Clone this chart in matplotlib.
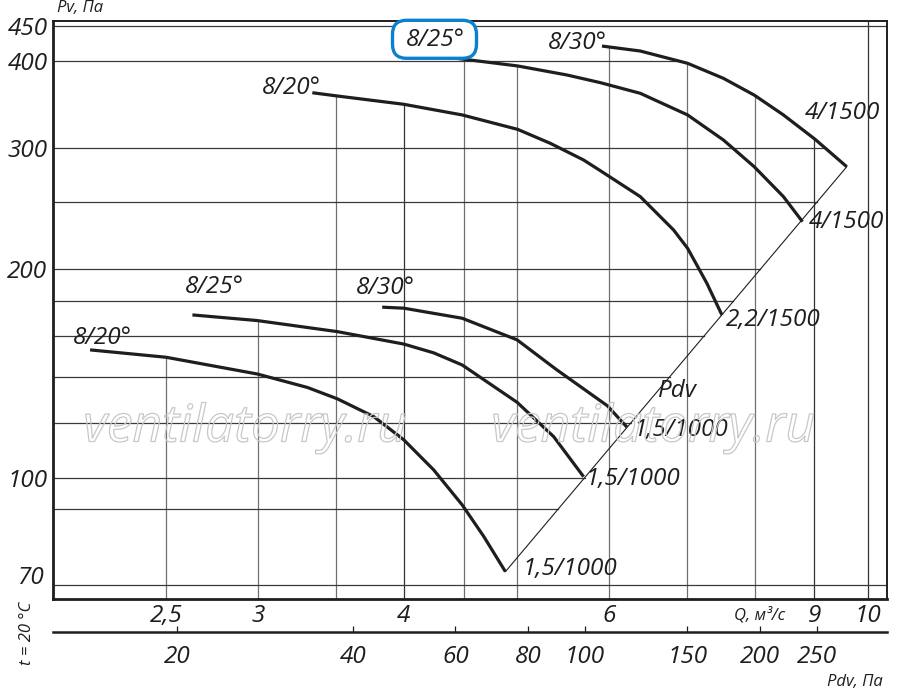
import numpy as np
import matplotlib.pyplot as plt
from matplotlib import patheffects
from matplotlib.patches import FancyBboxPatch
from matplotlib.transforms import IdentityTransform
from matplotlib.ticker import NullLocator

plt.rcParams['font.family'] = ['Open Sans', 'DejaVu Sans']
plt.rcParams['font.style'] = 'italic'

# === Curves: Q (m3/s) vs Pv (Pa) ===
q_hi20 = [3.338, 3.507, 3.999, 4.488, 5.008, 5.342, 5.704, 5.896, 6.380, 6.814, 7.005, 7.277, 7.496]
p_hi20 = [360.3, 356.4, 346.7, 334.6, 318.9, 304.4, 288.0, 277.9, 254.9, 228.1, 214.6, 191.0, 171.9]

q_hi25 = [4.052, 4.488, 5.008, 5.521, 5.896, 6.380, 7.005, 7.519, 7.990, 8.465, 8.789]
p_hi25 = [411.7, 403.1, 393.9, 382.2, 372.6, 359.6, 334.6, 307.8, 281.6, 254.9, 234.5]

q_hi30 = [5.915, 6.380, 7.005, 7.519, 7.990, 8.465, 9.012, 9.593]
p_hi30 = [420.9, 414.0, 397.4, 378.0, 357.5, 334.6, 308.5, 281.6]

q_lo20 = [2.152, 2.500, 2.994, 3.306, 3.507, 3.769, 3.999, 4.242, 4.488, 4.683, 4.888]
p_lo20 = [153.0, 149.3, 141.2, 135.0, 130.0, 122.5, 113.4, 102.6, 91.3, 82.2, 73.1]

q_lo25 = [2.634, 2.994, 3.507, 3.999, 4.242, 4.488, 5.002, 5.377, 5.704]
p_lo25 = [171.9, 168.7, 162.6, 156.0, 151.5, 145.5, 128.5, 114.6, 100.3]

q_lo30 = [3.832, 3.999, 4.488, 5.002, 5.400, 5.979, 6.214]
p_lo30 = [176.4, 175.8, 170.0, 158.2, 143.5, 127.0, 118.3]

# labels: start of curve / end of curve
lbl_hi = ['8/20°', '8/25°', '8/30°']
end_hi = ['2,2/1500', '4/1500', '4/1500']
lbl_lo = ['8/20°', '8/25°', '8/30°']
end_lo = ['1,5/1000', '1,5/1000', '1,5/1000']

# axes ticks / grid
q_ticks = [2.5, 3, 4, 6, 9, 10]
q_ticklabels = ['2,5', '3', '4', '6', '9', '10']
q_grid = [2.5, 3, 3.5, 4, 4.5, 5, 6, 7, 8, 9, 10]
q_grid_dark = [4, 9, 10]
p_ticks = [100, 200, 300, 400, 450]
p_low_tick = 70
p_grid = [70, 90, 100, 120, 140, 160, 180, 200, 250, 300, 400, 450]
pdv_ticks = [20, 40, 60, 80, 100, 150, 200, 250]
k_pdv = 3.06   # Pdv = k * Q^2

q_lim = (2.0, 10.38)
p_lim = (66.8, 458)

curves = [(q_hi20, p_hi20), (q_hi25, p_hi25), (q_hi30, p_hi30),
          (q_lo20, p_lo20), (q_lo25, p_lo25), (q_lo30, p_lo30)]

fig = plt.figure(figsize=(9, 6.92), dpi=100)
ax = fig.add_axes([0.0589, 0.1348, 0.9263, 0.8353])
ax.set_xscale('log')
ax.set_yscale('log')
ax.set_xlim(*q_lim)
ax.set_ylim(*p_lim)

ink = '#1e1e1e'

# === grid, clipped under the curves and left of the Pdv line ===
def top_at(qv):
    vals = []
    for q, p in curves:
        if q[0] <= qv <= q[-1]:
            vals.append(10 ** np.interp(np.log10(qv), np.log10(q), np.log10(p)))
    return max(vals) if vals else p_lim[1]

for qv in q_grid:
    col = '#333333' if qv in q_grid_dark else '#707070'
    ax.plot([qv, qv], [p_lim[0], top_at(qv)], color=col, lw=0.9, zorder=1)

# right edge: top 8/30 curve, then Pdv line down to the lowest end point
edge_q = np.array(q_hi30 + [q_lo20[-1]])
edge_p = np.array(p_hi30 + [p_lo20[-1]])
for pv in p_grid:
    if edge_p[-1] < pv < edge_p[0]:
        qr = 10 ** np.interp(np.log10(pv), np.log10(edge_p[::-1]), np.log10(edge_q[::-1]))
    else:
        qr = q_lim[1]
    ax.plot([q_lim[0], qr], [pv, pv], color='#3a3a3a', lw=0.9, zorder=1)

# === watermark ===
for xw in [0.2722, 0.7256]:
    fig.text(xw, 0.3815, 'ventilatorry.ru', fontsize=37, color='none',
             ha='center', va='center', zorder=2,
             path_effects=[patheffects.Stroke(linewidth=0.9, foreground='#c8c8c8')])

# === Pdv line ===
ax.plot([q_lo20[-1], q_hi30[-1]], [p_lo20[-1], p_hi30[-1]], color=ink, lw=0.8, zorder=3)

# === curves ===
for q, p in curves:
    ax.plot(q, p, color=ink, lw=2.3, solid_capstyle='butt', solid_joinstyle='round', zorder=4)

# === curve labels (offsets in px from curve start / end) ===
def put(txt, q, p, dx, dy):
    ax.annotate(txt, xy=(q, p), xytext=(dx * 0.72, dy * 0.72), textcoords='offset points',
                ha='center', va='center', fontsize=17.5, color=ink, zorder=5)

put(lbl_hi[0], q_hi20[0], p_hi20[0], -21, 5)
put(lbl_hi[1], q_hi25[0], p_hi25[0], 25, 13)
put(lbl_hi[2], q_hi30[0], p_hi30[0], -25, 3)
put(end_hi[0], q_hi20[-1], p_hi20[-1], 51, -5)
put(end_hi[1], q_hi25[-1], p_hi25[-1], 44, 0)
put(end_hi[2], q_hi30[-1], p_hi30[-1], -4, 54)
put(lbl_lo[0], q_lo20[0], p_lo20[0], 12, 12)
put(lbl_lo[1], q_lo25[0], p_lo25[0], 22, 28)
put(lbl_lo[2], q_lo30[0], p_lo30[0], 3, 19)
put(end_lo[0], q_lo20[-1], p_lo20[-1], 64, 3)
put(end_lo[1], q_lo25[-1], p_lo25[-1], 49, -2)
put(end_lo[2], q_lo30[-1], p_lo30[-1], 54, -3)
ax.text(6.86, 133.5, 'Pdv', fontsize=17.5, color=ink, ha='center', va='center', zorder=5)

# blue highlight round the upper 8/25° label (pixel box)
ax.add_patch(FancyBboxPatch((392.5, 692 - 58.3), 84, 38, boxstyle='round,pad=0,rounding_size=14',
                            transform=IdentityTransform(), fc='white', ec='#0a80d0',
                            lw=2.4, clip_on=False, zorder=4.5))

# === axes ===
ax.xaxis.set_minor_locator(NullLocator())
ax.yaxis.set_minor_locator(NullLocator())
ax.set_xticks(q_ticks, q_ticklabels)
ax.set_yticks(p_ticks, [str(v) for v in p_ticks])
ax.tick_params(length=0, labelsize=17.5, labelcolor=ink)
ax.tick_params(axis='x', pad=4)
ax.tick_params(axis='y', pad=4)
# the 70 label sits a little above its grid line
ax.annotate(str(p_low_tick), xy=(0, p_low_tick), xycoords=('axes fraction', 'data'),
            xytext=(-4 * 0.72 - 2.9, 4.5), textcoords='offset points',
            ha='right', va='center', fontsize=17.5, color=ink, annotation_clip=False)
for s in ['left', 'bottom']:
    ax.spines[s].set_linewidth(2.0)
for s in ['top', 'right']:
    ax.spines[s].set_linewidth(1.4)
for s in ax.spines.values():
    s.set_color(ink)

sec = ax.secondary_xaxis(-0.0581, functions=(lambda q: k_pdv * q ** 2,
                                              lambda p: np.sqrt(np.maximum(p, 1e-9) / k_pdv)))
sec.set_xticks(pdv_ticks, [str(v) for v in pdv_ticks])
sec.xaxis.set_minor_locator(NullLocator())
sec.tick_params(direction='in', length=4.3, width=0.9, pad=9, labelsize=17.5,
                labelcolor=ink, color=ink)
sec.spines['bottom'].set_linewidth(1.8)
sec.spines['bottom'].set_color(ink)

# === axis titles ===
fig.text(0.0889, 0.9884, 'Pv, Па', fontsize=12, color=ink, ha='center', va='center')
fig.text(0.8444, 0.1113, 'Q, м³/с', fontsize=12, color=ink, ha='center', va='center')
fig.text(0.95, 0.0145, 'Pdv, Па', fontsize=12, color=ink, ha='center', va='center')
fig.text(0.03, 0.0853, 't = 20 °C', fontsize=12, color=ink, ha='center', va='center',
         rotation=90)

fig.savefig('out.png', dpi=100)
